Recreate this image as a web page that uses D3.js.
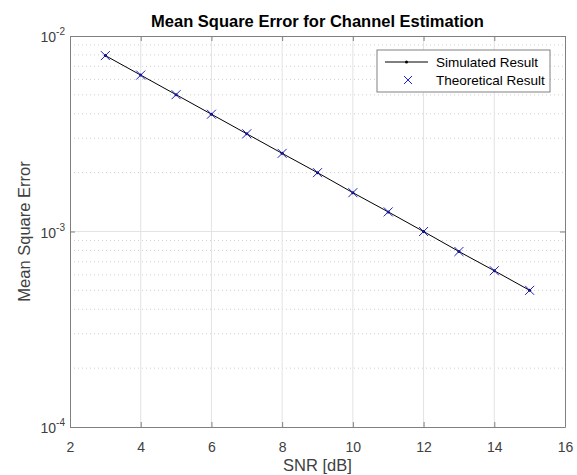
<!DOCTYPE html>
<html><head><meta charset="utf-8">
<script src="https://cdn.jsdelivr.net/npm/d3@7"></script>
<style>body{margin:0;background:#fff;}svg{display:block;font-family:"Liberation Sans",Arial,sans-serif;}</style>
</head><body>
<svg id="c" width="577" height="475"></svg>
<script>
const snr = [3,4,5,6,7,8,9,10,11,12,13,14,15];
const simulated = [7.94e-3,6.31e-3,5.01e-3,3.98e-3,3.16e-3,2.51e-3,2.0e-3,1.58e-3,1.26e-3,1.0e-3,7.9e-4,6.3e-4,5.0e-4];
const theoretical = [7.94e-3,6.31e-3,5.01e-3,3.98e-3,3.16e-3,2.51e-3,2.0e-3,1.58e-3,1.26e-3,1.0e-3,7.9e-4,6.3e-4,5.0e-4];
const xTicks = [2,4,6,8,10,12,14,16];
const yDecades = [-4,-3,-2];
const titleText = "Mean Square Error for Channel Estimation";
const xLabel = "SNR [dB]";
const yLabel = "Mean Square Error";
const legendLabels = ["Simulated Result","Theoretical Result"];

const svg = d3.select("#c");
const L=70, R=565, T=36, B=427;
const x = d3.scaleLinear().domain([2,16]).range([L,R]);
const y = d3.scaleLog().domain([1e-4,1e-2]).range([B,T]);
const axisCol="#808080", txtCol="#404040";

const g = svg.append("g");
const minor=[];
for(let d=-4; d<-2; d++) for(let k=2;k<=9;k++) minor.push(k*Math.pow(10,d));
g.selectAll(".mg").data(minor).enter().append("line")
 .attr("x1",L).attr("x2",R).attr("y1",d=>y(d)).attr("y2",d=>y(d))
 .attr("stroke","#d0d0d0").attr("stroke-width",1).attr("stroke-dasharray","1,3");
g.selectAll(".gx").data(xTicks.slice(1,-1)).enter().append("line")
 .attr("x1",d=>x(d)).attr("x2",d=>x(d)).attr("y1",T).attr("y2",B)
 .attr("stroke","#e3e3e3").attr("stroke-width",1);
g.selectAll(".gy").data([1e-3]).enter().append("line")
 .attr("x1",L).attr("x2",R).attr("y1",d=>y(d)).attr("y2",d=>y(d))
 .attr("stroke","#e3e3e3").attr("stroke-width",1);

const xb = d3.axisBottom(x).tickValues(xTicks).tickSize(-5).tickPadding(15).tickSizeOuter(0);
const xt = d3.axisTop(x).tickValues(xTicks).tickSize(-5).tickFormat("").tickSizeOuter(0);
const yTickVals = yDecades.map(d=>Math.pow(10,d));
const yl = d3.axisLeft(y).tickValues(yTickVals).tickSize(-5).tickFormat("").tickSizeOuter(0);
const yr = d3.axisRight(y).tickValues(yTickVals).tickSize(-5).tickFormat("").tickSizeOuter(0);
function style(sel){sel.selectAll("path").attr("stroke",axisCol);sel.selectAll("line").attr("stroke",axisCol);sel.selectAll("text").attr("fill",txtCol).style("font-size","14px").style("font-family","Liberation Sans, Arial, sans-serif");}
style(svg.append("g").attr("transform",`translate(0,${B})`).call(xb));
style(svg.append("g").attr("transform",`translate(0,${T})`).call(xt));
style(svg.append("g").attr("transform",`translate(${L},0)`).call(yl));
style(svg.append("g").attr("transform",`translate(${R},0)`).call(yr));
const ylab = svg.append("g");
yDecades.forEach(d=>{
  const t = ylab.append("text").attr("x",L-5).attr("y",y(Math.pow(10,d))+6).attr("text-anchor","end")
   .attr("fill",txtCol).style("font-size","14px");
  t.append("tspan").text("10");
  t.append("tspan").attr("dy",-7).style("font-size","10px").text(String(d));
});

const pts = snr.map((s,i)=>[s,simulated[i]]);
svg.append("path").datum(pts).attr("fill","none").attr("stroke","#000").attr("stroke-width",1)
 .attr("d",d3.line().x(d=>x(d[0])).y(d=>y(d[1])));
svg.selectAll(".dot").data(pts).enter().append("circle").attr("cx",d=>x(d[0])).attr("cy",d=>y(d[1])).attr("r",1.5).attr("fill","#000");
const th = snr.map((s,i)=>[s,theoretical[i]]);
svg.selectAll(".xm").data(th).enter().append("path")
 .attr("transform",d=>`translate(${x(d[0])},${y(d[1])})`)
 .attr("d","M-4.5,-4.5L4.5,4.5M-4.5,4.5L4.5,-4.5").attr("stroke","#2020d8").attr("stroke-width",1).attr("fill","none");

const lg = svg.append("g");
lg.append("rect").attr("x",377).attr("y",50).attr("width",173).attr("height",42).attr("fill","#fff").attr("stroke",axisCol);
lg.append("line").attr("x1",385).attr("x2",428).attr("y1",62).attr("y2",62).attr("stroke","#000");
lg.append("circle").attr("cx",406.5).attr("cy",62).attr("r",1.5).attr("fill","#000");
lg.append("path").attr("transform","translate(408,80)").attr("d","M-4,-4L4,4M-4,4L4,-4").attr("stroke","#2020d8").attr("fill","none");
lg.append("text").attr("x",436).attr("y",67).text(legendLabels[0]).style("font-size","13.5px").attr("fill","#000");
lg.append("text").attr("x",436).attr("y",85).text(legendLabels[1]).style("font-size","13.5px").attr("fill","#000");

svg.append("text").attr("x",(L+R)/2).attr("y",27).attr("text-anchor","middle").style("font-weight","bold").style("font-size","16.5px").attr("fill","#000").text(titleText);
svg.append("text").attr("x",(L+R)/2).attr("y",471).attr("text-anchor","middle").style("font-size","16.5px").attr("fill",txtCol).text(xLabel);
svg.append("text").attr("transform",`translate(30,${(T+B)/2}) rotate(-90)`).attr("text-anchor","middle").style("font-size","16.5px").attr("fill",txtCol).text(yLabel);
</script>
</body></html>
